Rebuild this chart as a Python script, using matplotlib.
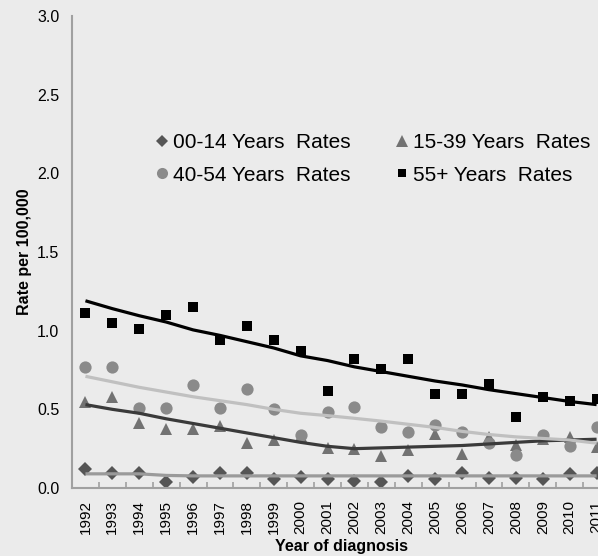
import matplotlib
matplotlib.use("Agg")
import matplotlib.pyplot as plt
from matplotlib.lines import Line2D
from matplotlib.ticker import FixedLocator, NullFormatter

plt.rcParams["font.family"] = ["Liberation Sans", "DejaVu Sans"]

years = list(range(1992, 2012))

# Observed rates per 100,000 by age group
rate_00_14 = [0.119, 0.097, 0.097, 0.038, 0.068, 0.097, 0.097, 0.055, 0.070, 0.057,
              0.047, 0.038, 0.076, 0.057, 0.097, 0.065, 0.065, 0.057, 0.089, 0.097]
rate_15_39 = [0.549, 0.577, 0.415, 0.375, 0.375, 0.394, 0.288, 0.305, 0.330, 0.252,
              0.250, 0.203, 0.242, 0.341, 0.216, 0.326, 0.273, 0.310, 0.322, 0.263]
rate_40_54 = [0.767, 0.767, 0.507, 0.507, 0.655, 0.507, 0.627, 0.500, 0.337, 0.485,
              0.517, 0.388, 0.356, 0.398, 0.356, 0.288, 0.210, 0.337, 0.267, 0.388]
rate_55_up = [1.110, 1.047, 1.009, 1.100, 1.149, 0.941, 1.030, 0.941, 0.873, 0.619,
              0.818, 0.759, 0.818, 0.596, 0.596, 0.659, 0.449, 0.576, 0.551, 0.566]

# Modelled trend rates
trend_00_14 = [0.090, 0.090, 0.090, 0.080, 0.077, 0.077, 0.077, 0.077, 0.077, 0.077,
               0.077, 0.077, 0.077, 0.077, 0.077, 0.077, 0.077, 0.077, 0.077, 0.077]
trend_15_39 = [0.530, 0.500, 0.475, 0.440, 0.410, 0.380, 0.350, 0.320, 0.290, 0.265,
               0.250, 0.255, 0.260, 0.265, 0.270, 0.280, 0.290, 0.300, 0.305, 0.310]
trend_40_54 = [0.710, 0.675, 0.640, 0.610, 0.580, 0.555, 0.530, 0.500, 0.475, 0.460,
               0.443, 0.425, 0.405, 0.385, 0.360, 0.340, 0.325, 0.315, 0.305, 0.285]
trend_55_up = [1.190, 1.140, 1.095, 1.055, 1.005, 0.970, 0.930, 0.890, 0.840, 0.810,
               0.770, 0.740, 0.710, 0.680, 0.655, 0.625, 0.600, 0.575, 0.550, 0.530]

series_labels = ["00-14 Years  Rates", "15-39 Years  Rates",
                 "40-54 Years  Rates", "55+ Years  Rates"]
y_ticks = [0.0, 0.5, 1.0, 1.5, 2.0, 2.5, 3.0]

bg = "#ebebeb"
fig = plt.figure(figsize=(5.98, 5.56), dpi=100, facecolor=bg)
ax = fig.add_axes([0.1204, 0.1223, 0.8997, 0.8489], facecolor=bg)

styles = [
    (rate_00_14, trend_00_14, "D", 7.0, "#555555", "#9a9a9a"),
    (rate_15_39, trend_15_39, "^", 8.5, "#727272", "#3a3a3a"),
    (rate_40_54, trend_40_54, "o", 8.8, "#8a8a8a", "#c0c0c0"),
    (rate_55_up, trend_55_up, "s", 7.0, "#000000", "#000000"),
]
for obs, trend, mk, ms, mc, lc in styles:
    ax.plot(years, obs, linestyle="none", marker=mk, markersize=ms,
            color=mc, markeredgewidth=0, zorder=2)
for obs, trend, mk, ms, mc, lc in styles:
    ax.plot(years, trend, color=lc, linewidth=2.3, zorder=3,
            solid_capstyle="butt")

ax.set_xlim(years[0] - 0.5, years[-1] + 0.5)
ax.set_ylim(0, 3.0)
ax.set_yticks(y_ticks)
ax.set_yticklabels([f"{v:.1f}" for v in y_ticks])
ax.set_xticks(years)
ax.set_xticklabels([str(y) for y in years], rotation=90)
ax.xaxis.set_minor_locator(FixedLocator([y + 0.5 for y in years[:-1]]))
ax.xaxis.set_minor_formatter(NullFormatter())

ax.tick_params(axis="x", which="major", length=0, pad=8.5, labelsize=11,
               colors="#000000")
ax.tick_params(axis="x", which="minor", length=4, width=1.2, direction="in",
               color="#a0a0a0")
ax.tick_params(axis="y", length=0, pad=9, labelsize=11.5, colors="#000000")

for side in ("top", "right"):
    ax.spines[side].set_visible(False)
for side in ("left", "bottom"):
    ax.spines[side].set_color("#a0a0a0")
    ax.spines[side].set_linewidth(1.5)

ax.set_xlabel("Year of diagnosis", fontsize=11.5, fontweight="bold", labelpad=4)
ax.set_ylabel("Rate per 100,000", fontsize=11.5, fontweight="bold", labelpad=4)

handles = [
    Line2D([], [], linestyle="none", marker="D", markersize=6.5,
           color="#555555", markeredgewidth=0),
    Line2D([], [], linestyle="none", marker="^", markersize=8,
           color="#727272", markeredgewidth=0),
    Line2D([], [], linestyle="none", marker="o", markersize=8,
           color="#8a8a8a", markeredgewidth=0),
    Line2D([], [], linestyle="none", marker="s", markersize=6,
           color="#000000", markeredgewidth=0),
]
# legend fills column by column, so order entries to read across rows
order = [0, 2, 1, 3]
fig.legend([handles[i] for i in order], [series_labels[i] for i in order],
           loc="upper left", bbox_to_anchor=(156 / 598, 1 - 133 / 556),
           ncol=2, frameon=False, fontsize=15, handlelength=0.6,
           handletextpad=0.2, columnspacing=2.2, labelspacing=0.65,
           borderpad=0, borderaxespad=0)

fig.savefig("out.png", dpi=100, facecolor=bg)
